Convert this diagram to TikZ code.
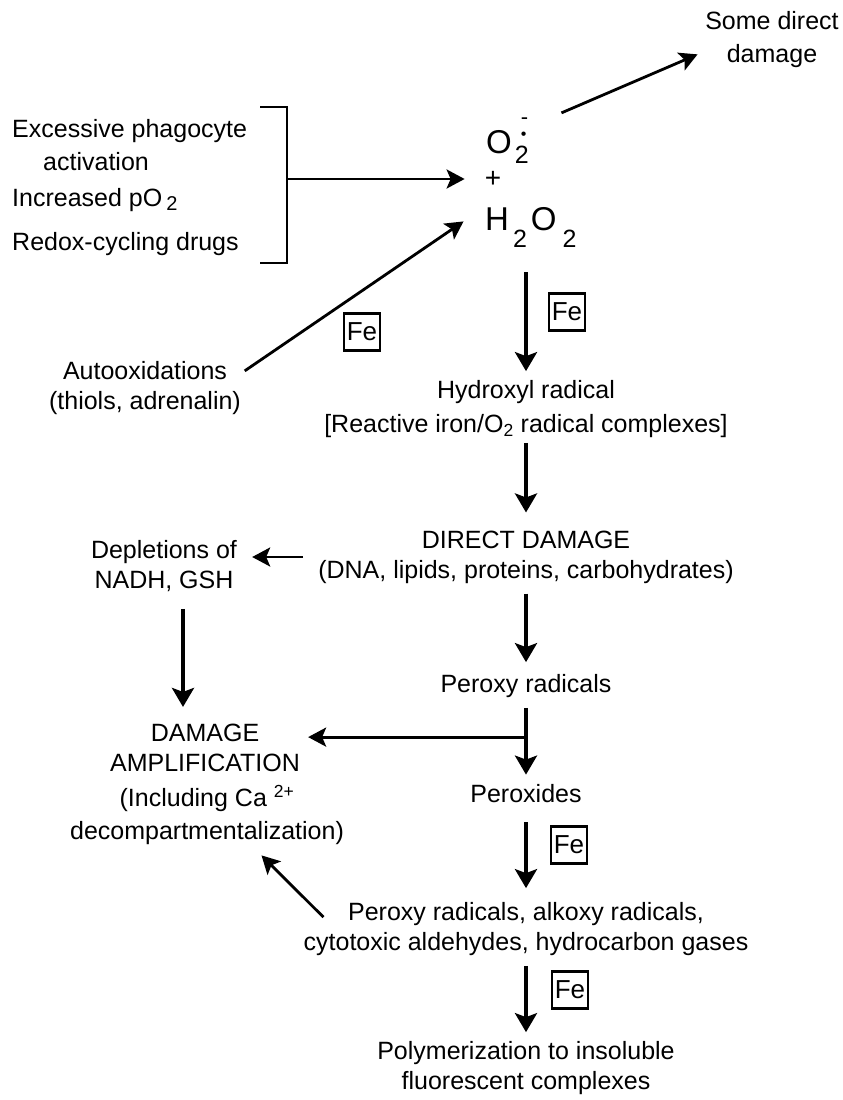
\documentclass[tikz,border=0pt]{standalone}
\usepackage{fontspec}
\setmainfont{Liberation Sans}
\usetikzlibrary{arrows.meta,calc}

\newcommand{\chemsub}[2]{\raisebox{#1}{\fontsize{25}{25}\selectfont #2}}

\begin{document}
\begin{tikzpicture}[x = 1pt, y = -1pt,
        every node/.style = {font = \fontsize{25}{30}\selectfont, inner sep = 2pt},
        txt/.style = {align = center},
        chem/.style = {font = \fontsize{33}{33}\selectfont, inner sep = 0pt, anchor = base west},
        flow/.style = {line width = 4pt, -{Stealth[length = 19pt, width = 22pt, inset = 4pt]}},
        side/.style = {line width = 2.8pt, -{Stealth[length = 18pt, width = 19pt, inset = 4pt]}},
        febox/.style = {draw, line width = 2.2pt, inner sep = 0pt, minimum width = 36pt, minimum height = 37pt, font = \fontsize{26}{26}\selectfont}]

        \useasboundingbox (0, 0) rectangle (843, 1100);

        \node [txt] (some) at (772, 40) {Some direct\\[3pt]damage};
        \node [chem] (o2) at (486, 153) {O\kern3pt\rlap{\chemsub{-10pt}{2}}\rlap{\kern6pt\raisebox{14pt}{\fontsize{16}{16}\selectfont\textbullet}}\kern6pt\raisebox{29pt}{\fontsize{22}{22}\selectfont -}};
        \node [font = \fontsize{28}{28}\selectfont] (plus) at (493, 179) {+};
        \node [chem] (h2o2) at (485, 230) {H\kern4pt\chemsub{-17pt}{2}\kern4pt O\kern6pt\chemsub{-17pt}{2}};

        \node [anchor = west, align = left] (excess) at (10, 145) {Excessive phagocyte\\[3pt]\hspace*{31pt}activation};
        \node [anchor = west] (incr) at (10, 200) {Increased pO\,\raisebox{-4pt}{\fontsize{20}{20}\selectfont 2}};
        \node [anchor = west] (redox) at (10, 244) {Redox-cycling drugs};
        \node [txt] (auto) at (145, 388) {Autooxidations\\(thiols, adrenalin)};

        \draw [line width = 2.5pt] (260, 107) -| (287, 263) -- (260, 263);
        \coordinate (brk) at (287, 179);

        \node [txt] (hydr) at (526, 409) {Hydroxyl radical\\[4pt][Reactive iron/O\textsubscript{2} radical complexes]};
        \node [txt] (dd) at (526, 557) {DIRECT DAMAGE\\(DNA, lipids, proteins, carbohydrates)};
        \node [txt] (depl) at (164, 566) {Depletions of\\NADH, GSH};
        \node [txt] (perox) at (526, 686) {Peroxy radicals};
        \node [txt] (pxd) at (526, 794) {Peroxides};
        \node [txt] (amp) at (205, 748) {DAMAGE\\AMPLIFICATION};
        \node [txt] (ampnote) at (207, 815) {(Including Ca \textsuperscript{2+}\\[3pt]decompartmentalization)};
        \node [txt] (prods) at (526, 929) {Peroxy radicals, alkoxy radicals,\\cytotoxic aldehydes, hydrocarbon gases};
        \node [txt] (poly) at (526, 1068) {Polymerization to insoluble\\fluorescent complexes};

        \node [febox] (fe1) at (362, 332) {Fe};
        \node [febox] (fe2) at (567, 312) {Fe};
        \node [febox] (fe3) at (569, 845) {Fe};
        \node [febox] (fe4) at (570, 990) {Fe};

        \draw [side, shorten <= 36pt, shorten >= 6pt] ([yshift = -10pt]o2.north east) -- ([yshift = -12pt]some.west);
        \draw [side, shorten >= 18pt] (brk) -- (brk -| plus.west);
        \draw [side, shorten <= 2pt, shorten >= 26pt] ([yshift = 16pt]auto.east) -- (h2o2.north west);

        \draw [flow, shorten <= 25pt, shorten >= 7pt] (hydr.north |- h2o2.south) -- (hydr.north);
        \draw [flow, shorten <= 3pt, shorten >= 16pt] (hydr) -- (dd);
        \draw [flow, shorten <= 8pt, shorten >= 10pt] (dd) -- (perox);
        \draw [flow, shorten <= 8pt, shorten >= 8pt] (perox) -- (pxd);
        \draw [flow, shorten <= 17pt, shorten >= 12pt] (pxd) -- (prods);
        \draw [flow, shorten <= 8pt, shorten >= 7pt] (prods) -- (poly);

        \draw [side, shorten <= 13pt, shorten >= 13pt] (dd.west) -- (dd.west -| depl.east);
        \draw [flow, shorten <= 15pt, shorten >= 15pt] ([xshift = 19pt]depl.south) -- ([xshift = 19pt]depl.south |- amp.north);

        \coordinate (br) at ($(perox.south)!0.45!(pxd.north)$);
        \draw [side, shorten >= 6pt] (br) -- (br -| amp.east);
        \draw [side, shorten >= 12pt] ([xshift = 22pt, yshift = -17pt]prods.north west) -- ([xshift = 46pt]ampnote.south);
    \end{tikzpicture}
\end{document}
